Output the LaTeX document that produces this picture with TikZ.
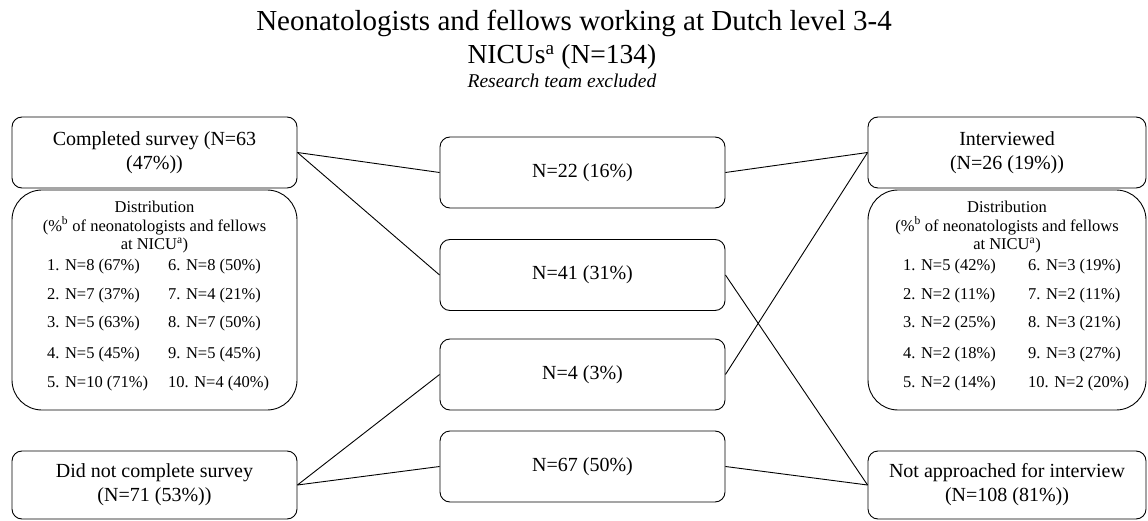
\documentclass[tikz,border=0pt]{standalone}
\usepackage{fontspec}
\setmainfont{Liberation Serif}
\usetikzlibrary{positioning}
\tikzset{
    box/.style =    {rectangle,
                    rounded corners=10pt,
                    fill=white,
                    draw=black,
                    text=black,
                    line width=0.9pt,
                    align=center,
                    inner sep=0pt,
                    font=\fontsize{20}{24}\selectfont},
    distbox/.style = {rectangle,
                    rounded corners=30pt,
                    draw=black,
                    line width=0.9pt,
                    inner sep=0pt,
                    minimum height=220pt},
    side/.style =   {box,
                    minimum width=285pt},
    rside/.style =  {box,
                    minimum width=278pt},
    mid/.style =    {box,
                    minimum width=285pt,
                    minimum height=71pt},
    disthead/.style = {align=center,
                    inner sep=0pt,
                    font=\fontsize{16.5}{18.5}\selectfont},
    distrow/.style = {anchor=base west,
                    inner sep=0pt,
                    font=\fontsize{16.5}{18}\selectfont},
    link/.style =   {line width=0.9pt, draw=black}}

\begin{document}
\begin{tikzpicture}[x=1pt,y=-1pt]
    \useasboundingbox (0,0) rectangle (1148,521);

    % title
    \node[anchor=base,inner sep=0pt,font=\fontsize{29}{32}\selectfont] (t1) at (574,31)
        {Neonatologists and fellows working at Dutch level 3-4};
    \node[anchor=base,inner sep=0pt,font=\fontsize{27.5}{32}\selectfont] (t2) at (562,64)
        {NICUs\textsuperscript{a} (N=134)};
    \node[anchor=base,inner sep=0pt,font=\fontsize{19.5}{22}\selectfont\itshape] (t3) at (562,88)
        {Research team excluded};

    % left column
    \node[side,minimum height=71pt]  (cs)  at (154.5,152.5) {Completed survey (N=63\\(47\%))};
    \node[distbox,minimum width=285pt] (dl) at (154.5,300) {};
    \node[side,minimum height=68pt]  (nc)  at (154.5,485)   {Did not complete survey\\(N=71 (53\%))};

    % middle column
    \node[mid] (m22) at (582.5,172.5) {N=22 (16\%)};
    \node[mid] (m41) at (582.5,275)   {N=41 (31\%)};
    \node[mid] (m4)  at (582.5,374.5) {N=4 (3\%)};
    \node[mid] (m67) at (582.5,466.5) {N=67 (50\%)};

    % right column
    \node[rside,minimum height=71pt] (iv) at (1007,152.5) {Interviewed\\(N=26 (19\%))};
    \node[distbox,minimum width=278pt] (dr) at (1007,300) {};
    \node[rside,minimum height=68pt] (na) at (1007,485)   {Not approached for interview\\(N=108 (81\%))};

    % distribution texts
    \node[disthead,anchor=north] (hl) at (154.5,201)
        {Distribution\\(\%\textsuperscript{b} of neonatologists and fellows\\at NICU\textsuperscript{a})};
    \node[disthead,anchor=north] (hr) at (1007,201)
        {Distribution\\(\%\textsuperscript{b} of neonatologists and fellows\\at NICU\textsuperscript{a})};

    \foreach \y/\a/\b [count=\i] in {271/{1. N=8 (67\%)}/{6. N=8 (50\%)},
                                   299/{2. N=7 (37\%)}/{7. N=4 (21\%)},
                                   327/{3. N=5 (63\%)}/{8. N=7 (50\%)},
                                   358/{4. N=5 (45\%)}/{9. N=5 (45\%)},
                                   387/{5. N=10 (71\%)}/{10. N=4 (40\%)}}
        {\node[distrow] (la\i) at (47,\y)  {\a};
         \node[distrow] (lb\i) at (168,\y) {\b};}

    \foreach \y/\a/\b [count=\i] in {271/{1. N=5 (42\%)}/{6. N=3 (19\%)},
                                   299/{2. N=2 (11\%)}/{7. N=2 (11\%)},
                                   327/{3. N=2 (25\%)}/{8. N=3 (21\%)},
                                   358/{4. N=2 (18\%)}/{9. N=3 (27\%)},
                                   387/{5. N=2 (14\%)}/{10. N=2 (20\%)}}
        {\node[distrow] (ra\i) at (903,\y)  {\a};
         \node[distrow] (rb\i) at (1028,\y) {\b};}

    % connectors
    \path [link]    (cs.east)  edge (m22.west)
                    (cs.east)  edge (m41.west)
                    (nc.east)  edge (m4.west)
                    (nc.east)  edge (m67.west)
                    (m22.east) edge (iv.west)
                    (m4.east)  edge (iv.west)
                    (m41.east) edge (na.west)
                    (m67.east) edge (na.west);
\end{tikzpicture}
\end{document}
